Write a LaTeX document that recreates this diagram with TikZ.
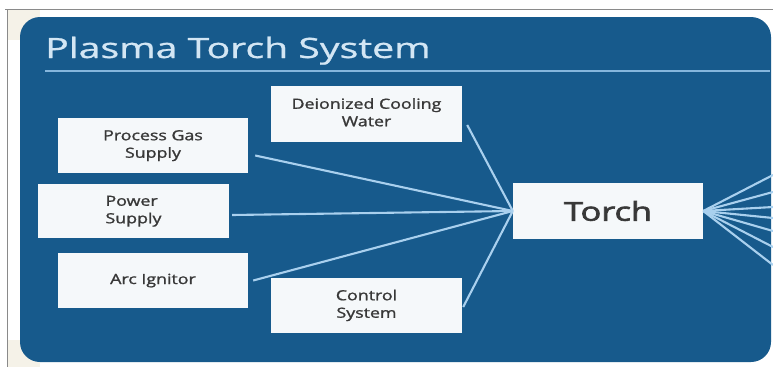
\documentclass[tikz,border=0pt]{standalone}
\usepackage{fontspec}
\setmainfont{Open Sans}
\newfontfamily\medfont{Open Sans}[FakeBold=1.2]
\newfontfamily\torchfont{Open Sans}[FakeBold=2.2]
\newfontfamily\titlefont{Open Sans}[FakeBold=0.8]
\usetikzlibrary{calc}
\definecolor{bgblue}{HTML}{175A8C}
\definecolor{lineblue}{HTML}{A9D0EE}
\definecolor{titlecol}{HTML}{D3E6F4}
\definecolor{rulecol}{HTML}{86B6DC}
\definecolor{boxfill}{HTML}{F5F8FA}
\definecolor{boxtext}{HTML}{383838}
\definecolor{cream}{HTML}{F5F2E8}
\definecolor{framegray}{HTML}{8A8A8A}
\newcommand{\widetext}[2]{\scalebox{#1}[1]{\begin{tabular}{@{}c@{}}#2\end{tabular}}}
\newcommand{\widetextl}[2]{\scalebox{#1}[1]{\begin{tabular}{@{}l@{}}#2\end{tabular}}}
\tikzset{
  boxnode/.style={fill=boxfill, minimum width=190pt, minimum height=55pt, inner sep=0pt,
    text=boxtext, font=\medfont\fontsize{14}{17.5}\selectfont},
  conn/.style={draw=lineblue, line width=2.1pt},
}
\begin{document}
\begin{tikzpicture}[x=1pt,y=-1pt]
\useasboundingbox (0,0) rectangle (773,367);
\fill[white] (0,0) rectangle (773,367);
\fill[cream] (8,10) rectangle (40,40);
\fill[cream] (8,340) rectangle (40,367);
\draw[framegray, line width=0.8pt] (5,9) -- (773,9);
\draw[framegray, line width=0.8pt] (7,9) -- (7,367);
\fill[bgblue, rounded corners=20pt] (20,17) rectangle (771,362);

% title
\node[anchor=base west, inner sep=0pt, text=titlecol, font=\titlefont\fontsize{28}{30}\selectfont] (title) at (45,58) {\scalebox{1.4}[1]{Plasma Torch System}};
\coordinate (r1) at (45,71);
\coordinate (r2) at (770,71);
\draw[rulecol, line width=2pt] (r1) -- (r2);

% boxes
\node[boxnode] (pg) at (153,145.5) {\widetext{1.27}{Process Gas\\Supply}};
\node[boxnode, minimum width=191pt, minimum height=54pt] (ps) at (133.5,211) {\widetextl{1.27}{Power\\Supply}};
\node[boxnode] (ai) at (153,280.5) {\widetext{1.27}{Arc Ignitor}};
\node[boxnode, minimum width=191pt, minimum height=56pt] (dw) at (366.5,114) {\widetext{1.27}{Deionized Cooling\\Water}};
\node[boxnode, minimum width=191pt] (cs) at (366.5,305.5) {\widetext{1.27}{Control\\System}};
\node[boxnode, minimum height=56pt, font=\torchfont\fontsize{26}{28}\selectfont] (torch) at (608,211) {\scalebox{1.32}[1]{Torch}};

% connectors into torch
\draw[conn] ([xshift=7pt,yshift=-10pt]pg.east) -- (torch.west);
\draw[conn] ([xshift=3pt,yshift=-4pt]ps.east) -- (torch.west);
\draw[conn] ([xshift=5pt,yshift=0pt]ai.east) -- (torch.west);
\draw[conn] ([xshift=5pt,yshift=-11pt]dw.east) -- (torch.west);
\draw[conn] ([xshift=1pt,yshift=-1.5pt]cs.east) -- (torch.west);

% fan out of torch
\coordinate (f1) at (773,175);
\coordinate (f2) at (773,192);
\coordinate (f3) at (773,207);
\coordinate (f4) at (773,218);
\coordinate (f5) at (773,231);
\coordinate (f6) at (773,247);
\coordinate (f7) at (773,265);
\foreach \f in {f1,f2,f3,f4,f5,f6,f7} {
  \draw[conn] (torch.east) -- (\f);
}
\end{tikzpicture}
\end{document}
